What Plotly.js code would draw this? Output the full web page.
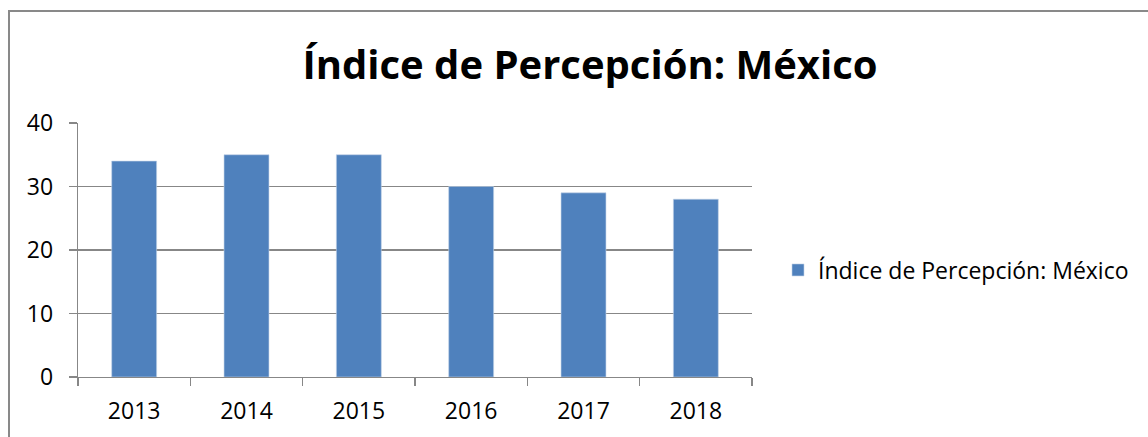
<!DOCTYPE html>
<html>
<head>
<meta charset="utf-8">
<script src="https://cdn.plot.ly/plotly-3.0.1.min.js"></script>
<style>
  html, body { margin: 0; padding: 0; background: #fff; }
  #wrap { position: relative; width: 1148px; height: 437px; overflow: hidden; }
  #chart { width: 1148px; height: 437px; }
  #frame { position: absolute; left: 8px; top: 10px; width: 1200px; height: 500px;
           border-top: 2px solid #898989; border-left: 2px solid #898989;
           pointer-events: none; box-sizing: border-box; }
</style>
</head>
<body>
<div id="wrap">
  <div id="chart"></div>
  <div id="frame"></div>
</div>
<script>
const chartTitle = "Índice de Percepción: México";
const seriesName = "Índice de Percepción: México";
const years = ["2013", "2014", "2015", "2016", "2017", "2018"];
const values = [34, 35, 35, 30, 29, 28];
const yTicks = [0, 10, 20, 30, 40];

const FONT = "'Open Sans', 'Noto Sans', sans-serif";
const GRID = "#878787";

const data = [{
  type: "bar",
  x: years,
  y: values,
  name: seriesName,
  marker: { color: "#4F81BD", line: { color: "#c3d3e8", width: 0.6 } },
  showlegend: true,
  hoverinfo: "x+y"
}];

const layout = {
  width: 1148,
  height: 437,
  paper_bgcolor: "#ffffff",
  plot_bgcolor: "#ffffff",
  font: { family: FONT, color: "#000000", size: 23 },
  margin: { l: 78, r: 396, t: 123, b: 60, pad: 0 },
  title: {
    text: "<b>" + chartTitle + "</b>",
    font: { family: FONT, size: 40, color: "#000000" },
    xref: "container", x: 590 / 1148, xanchor: "center",
    yref: "container", y: 1 - 65 / 437, yanchor: "middle"
  },
  bargap: 0.6,
  xaxis: {
    type: "category",
    showgrid: false,
    showline: true, linecolor: GRID, linewidth: 1.3,
    ticks: "outside", tickson: "boundaries", ticklen: 8, tickcolor: GRID, tickwidth: 1.3,
    tickfont: { family: FONT, size: 23, color: "#000" },
    ticklabelstandoff: 13,
    zeroline: false,
    fixedrange: true
  },
  yaxis: {
    range: [0, 40],
    tickvals: yTicks,
    ticktext: yTicks.map(String),
    showgrid: true, gridcolor: GRID, gridwidth: 1.3,
    showline: true, linecolor: GRID, linewidth: 1.3,
    ticks: "outside", ticklen: 8, tickcolor: GRID, tickwidth: 1.3,
    tickfont: { family: FONT, size: 23, color: "#000" },
    ticklabelstandoff: 11,
    zeroline: false,
    fixedrange: true
  },
  legend: {
    x: (778 - 78) / 674, xanchor: "left",
    y: (377 - 270) / 254, yanchor: "middle",
    font: { family: FONT, size: 23, color: "#000" },
    bgcolor: "rgba(0,0,0,0)",
    borderwidth: 0
  },
  showlegend: true
};

Plotly.newPlot("chart", data, layout, { displayModeBar: false, staticPlot: true });
</script>
</body>
</html>
